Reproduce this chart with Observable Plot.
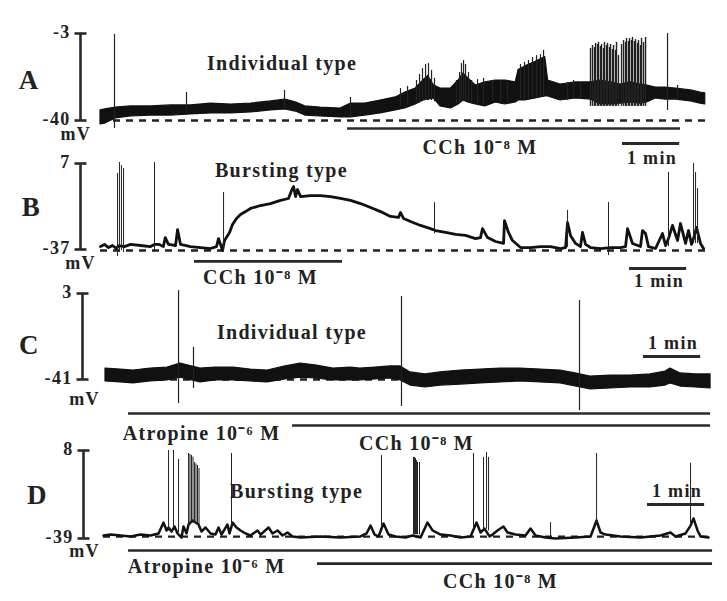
<!DOCTYPE html>
<html><head><meta charset="utf-8">
<script src="https://cdn.jsdelivr.net/npm/d3@7"></script>
<script src="https://cdn.jsdelivr.net/npm/@observablehq/plot@0.6"></script>
<style>
body{margin:0;background:#fff;}
#fig{position:relative;width:727px;height:601px;background:#fff;}
#fig svg{position:absolute;left:0;top:0;}
</style></head><body><div id="fig"></div>
<script>
// ---------- labels ----------
const panelLetters = ["A", "B", "C", "D"];
const panelTitles = ["Individual type", "Bursting type", "Individual type", "Bursting type"];
const unitLabel = "mV";
const timeBarLabel = "1 min";
const timeBarSeconds = 60;
const scaleTicksA = [-40, -3], scaleTicksB = [-37, 7], scaleTicksC = [-41, 3], scaleTicksD = [-39, 8];
const baselineA = -40, baselineB = -37.5, baselineC = -41, baselineD = -38;
const traceEndA = 637, traceEndB = 636, traceEndC = 635, traceEndD = 635;

// ---------- drug applications (s) ----------
const aDrugName = ["CCh 10⁻⁸ M"], aDrugStart = [259.4], aDrugEnd = [609];
const bDrugName = ["CCh 10⁻⁸ M"], bDrugStart = [98.7], bDrugEnd = [254.1];
const cDrugName = ["Atropine 10⁻⁶ M", "CCh 10⁻⁸ M"], cDrugStart = [24.2, 196.4], cDrugEnd = [635.3, 635.3];
const dDrugName = ["Atropine 10⁻⁶ M", "CCh 10⁻⁸ M"], dDrugStart = [26.3, 224.7], dDrugEnd = [639.5, 639.5];

// ---------- A: membrane potential envelope (s, mV) ----------
const aBandT = [0,5,16,32,53,74,95,116,137,158,179,194,205,215,231,252,263,278,294,310,320,331,339,344,350,357,368,376,381,386,394,404,415,425,436,439,446,457,467,470,483,499,515,525,536,546,557,567,574,583,593,604,620,630,635];
const aBandHi = [-35.7,-35.3,-34.5,-34.0,-34.0,-33.6,-33.6,-32.8,-33.2,-32.8,-31.9,-31.1,-32.3,-34.0,-34.5,-34.9,-32.8,-32.8,-31.5,-30.2,-28.1,-26.4,-23.0,-21.0,-25.0,-26.4,-26.4,-23.0,-20.0,-22.0,-25.1,-23.8,-23.0,-23.0,-23.8,-18.5,-17.0,-15.0,-13.0,-23.0,-24.7,-23.8,-23.8,-23.0,-23.8,-24.7,-23.8,-24.7,-25.1,-26.0,-26.0,-26.4,-27.2,-28.1,-28.5];
const aBandLo = [-41.7,-41.3,-39.1,-38.3,-37.9,-37.9,-37.4,-37.0,-37.0,-36.6,-35.7,-35.3,-36.2,-37.9,-38.3,-38.7,-38.7,-37.9,-37.0,-35.7,-34.9,-33.2,-31.5,-31.1,-30.6,-34.0,-34.9,-33.2,-31.5,-32.3,-33.2,-34.0,-32.3,-33.2,-32.3,-31.5,-31.5,-30.6,-29.8,-29.8,-31.5,-30.6,-31.1,-33.2,-33.2,-32.8,-32.3,-32.8,-32.3,-30.6,-31.1,-31.1,-31.9,-32.8,-33.2];
// single spikes and burst crests in A
const aSpikeT = [14.7,90.3,193.2,262.5,315,322.4,331.8,335,338.1,341.3,344.4,347.6,350.7,373.8,377,379,381.2,383.3,386.4,389.6,395.9,402.2,411.6,420,427.4,441,445.2,449.4,453.6,457.8,462,465.2,490.4,496.7,504,595.4,605.9];
const aSpikeTop = [-3.4,-28.1,-27.2,-30.2,-26.4,-25.5,-23.0,-20.4,-17.9,-16.2,-15.8,-18.7,-22.1,-23.0,-19.6,-15.8,-14.5,-16.2,-19.6,-23.0,-22.6,-22.1,-23.0,-23.0,-23.8,-16.2,-15.3,-14.5,-13.2,-12.4,-12.0,-10.2,-23.8,-23.0,-24.3,-3.0,-25.1];
const aSpikeBot = [-43.4,-36.6,-34.9,-38.7,-34.0,-33.5,-33.2,-32.5,-32.0,-31.5,-31.5,-31.5,-32.0,-33.0,-32.5,-32.0,-32.0,-32.0,-32.5,-33.0,-33.0,-33.5,-32.0,-33.0,-33.0,-31.0,-31.0,-31.0,-30.5,-30.5,-30.0,-30.0,-31.5,-30.6,-31.0,-35.7,-31.5];
// dense spike cluster in A (late CCh)
const aClusterT = [514.5,516.6,518.7,519.8,521.9,522.9,525,526.1,528.2,529.2,531.3,532.4,534.5,535.5,537.6,538.7,540.8,541.8,543.9,547.1,549.2,551.3,552.3,554.4,555.5,557.6,558.6,560.7,561.8,563.9,564.9,567,568.1,570.2,572.3];
const aClusterTop = [-9.4,-8.1,-9.0,-7.2,-7.7,-6.8,-8.5,-7.7,-9.4,-6.8,-8.1,-7.2,-9.0,-7.7,-9.8,-8.1,-10.2,-6.8,-12.4,-7.7,-6.0,-6.8,-5.1,-6.4,-5.1,-6.0,-4.7,-6.4,-5.6,-7.2,-6.0,-8.1,-5.1,-6.8,-4.7];
const aClusterBot = [-34,-34,-34,-34,-34,-34,-34,-34,-34,-34,-34,-34,-34,-34,-34,-34,-34,-34,-34,-34,-34,-34,-34,-34,-34,-34,-34,-34,-34,-34,-34,-34,-34,-34,-34];

// ---------- B: membrane potential (s, mV) ----------
const bT = [0,4.2,8.4,12.6,16.8,18.9,25.2,31.5,42,52.5,56.7,61.5,66,68,71.4,78.8,80.9,84,94.5,105,115.5,121.8,123.9,126,128.1,130.2,135.5,138.6,142.8,147,152.3,157.5,168,178.5,189,197.4,200.6,202.7,204.8,206.9,210,220.5,231,241.5,252,262.5,273,283.5,294,304.5,312.9,315,318.2,325.5,336,346.5,351.8,362.3,372.8,383.3,393.8,399,401.1,406.4,414.8,423.2,424.2,428.4,432.6,441,451.5,462,472.5,483,488.3,490.4,493.5,498.8,504,506.1,509.3,514.5,525,535.5,546,551.3,553.4,558.6,567,569.1,572.3,575.4,582.8,590.1,593.3,596.4,600.6,605.9,609,614.3,617.4,620.6,622.7,625.8,630,633.2];
const bV = [-35.5,-34.4,-36.0,-34.95,-36.5,-35.0,-35.5,-34.4,-34.95,-35.5,-34.4,-34.4,-35.5,-30.9,-34.4,-34.95,-26.8,-34.4,-35.5,-36.0,-36.5,-35.5,-31.4,-34.4,-37.5,-32.4,-28.3,-24.2,-21.1,-19.1,-17.6,-16.0,-14.5,-13.5,-11.9,-10.9,-6.8,-4.8,-9.9,-6.3,-9.9,-9.4,-9.4,-9.9,-10.9,-11.9,-13.5,-15.5,-17.6,-20.1,-20.6,-18.1,-21.1,-22.7,-24.7,-26.3,-27.3,-28.3,-29.3,-29.8,-31.4,-30.9,-26.3,-30.9,-32.9,-33.9,-22.2,-28.3,-32.4,-36.0,-36.0,-35.5,-35.5,-36.5,-36.0,-23.2,-29.8,-33.9,-35.5,-28.3,-34.4,-36.0,-36.5,-36.0,-36.0,-35.5,-26.3,-33.9,-35.5,-27.3,-28.8,-35.5,-36.5,-28.8,-35.0,-31.4,-24.7,-32.4,-23.7,-33.9,-27.3,-34.4,-31.4,-25.7,-33.9,-36.5];
const bSpikeT = [17.9,19.9,22,24.2,56.7,129.2,350.7,490.4,533.4,596.4,622.7,624.8,626.9];
const bSpikeTop = [1.9,7.5,6.0,4.4,7.5,-7.8,-13.0,-17.0,-13.0,2.4,7.0,2.4,-5.8];
const bSpikeBot = [-40.6,-38.5,-37.5,-38.5,-38.5,-37.5,-29.0,-36.0,-40.1,-35.5,-34.0,-34.0,-34.0];

// ---------- C: membrane potential envelope (s, mV) ----------
const cBandT = [0,15.8,29.4,47.3,65.1,78.8,99.8,115.5,134.4,152.3,170.1,189,204.8,220.5,239.4,257.3,267.8,283.5,299.3,309.8,320.3,336,351.8,372.8,393.8,414.8,435.8,456.8,477.8,493.5,509.3,530.3,551.3,572.3,588,593.3,603.8,619.5,635.3];
const cBandHi = [-35.4,-35.9,-36.4,-35.4,-34.9,-32.8,-35.4,-34.9,-34.9,-35.9,-36.4,-34.3,-32.8,-33.8,-35.4,-34.9,-35.4,-34.9,-34.3,-34.3,-37.4,-38.4,-37.4,-36.4,-35.9,-35.4,-35.4,-35.9,-36.4,-37.9,-39.5,-39.0,-39.0,-38.4,-36.9,-35.4,-37.9,-38.4,-38.4];
const cBandLo = [-42.0,-42.5,-43.0,-42.0,-41.5,-40.0,-42.5,-41.5,-41.5,-42.0,-42.5,-41.0,-40.0,-40.5,-41.5,-41.5,-41.5,-41.0,-40.5,-41.5,-44.1,-45.1,-44.1,-43.6,-43.0,-42.5,-42.0,-42.5,-43.0,-44.6,-46.1,-45.6,-45.1,-45.1,-44.1,-43.0,-44.6,-45.1,-45.6];
const cSpikeT = [76.7,92.4,310.8,497.7];
const cSpikeTop = [4.5,-24.6,1.5,-0.6];
const cSpikeBot = [-53.3,-45.6,-54.8,-56.9];

// ---------- D: membrane potential (s, mV) ----------
const dT = [0,7.4,17.9,28.4,38.9,49.4,57.8,63,66.2,68.3,71.4,74.6,77.7,81.9,84,87.2,89.3,93.5,99.8,102.9,107.1,112.4,117.6,120.8,123.9,130.2,132.3,135.5,139.7,143.9,149.1,154.4,161.7,164.9,173.3,177.5,182.7,188,193.2,198.5,206.9,227.9,248.9,269.9,276.2,280.4,284.6,288.8,294,299.3,306.6,317.1,324.5,332.9,340.2,345.5,353.9,364.4,374.9,385.4,391.7,395.9,400.1,405.3,408.5,413.7,420,424.2,432.6,443.1,448.4,453.6,464.1,474.6,495.6,511.4,517.7,521.9,527.1,542.9,563.9,584.9,595.4,600.6,611.1,616.4,619.5,623.7,626.9,635.3];
const dV = [-37.4,-36.9,-37.4,-37.9,-36.9,-37.4,-36.3,-30.5,-34.7,-33.1,-35.3,-32.6,-36.3,-38.5,-32.6,-36.3,-31.5,-29.4,-31.5,-35.3,-33.1,-36.3,-36.9,-33.1,-36.9,-31.5,-36.3,-30.5,-33.1,-34.7,-36.3,-37.4,-34.7,-36.9,-33.1,-36.3,-34.7,-37.4,-35.8,-37.9,-38.5,-37.9,-38.5,-37.9,-36.3,-32.1,-36.9,-37.9,-31.0,-36.9,-37.9,-38.5,-37.4,-38.5,-30.5,-34.7,-36.9,-37.4,-38.5,-37.9,-30.5,-35.8,-33.7,-37.9,-36.9,-34.7,-32.6,-35.8,-36.9,-37.4,-33.7,-37.4,-38.5,-39.0,-38.5,-37.9,-29.4,-35.8,-36.9,-37.9,-38.5,-37.4,-35.8,-37.9,-36.3,-32.1,-28.3,-34.7,-37.9,-38.5];
const dSpikeT = [68.3,73.5,78.8,89.3,90.8,92.4,94,95.6,97.1,98.7,100.3,134.4,291.9,325.5,326.6,327.6,328.7,329.7,331.8,388.5,399,402.2,404.3,469.4,517.7,616.4];
const dSpikeTop = [8.0,8.0,3.2,6.4,5.9,5.3,4.5,1.6,0.8,0.0,-1.6,6.4,5.3,4.3,4.3,3.7,2.6,1.6,1.6,6.4,4.3,6.9,4.3,-30.5,6.4,1.1];
const dSpikeBot = [-35,-34,-36,-33,-32,-31,-31,-31,-31,-32,-33,-33,-33,-37,-37,-37,-37,-37,-37,-34,-34,-34,-35,-38,-32,-33];

// ---------- helpers ----------
const zip = (keys, ...arrs) => arrs[0].map((_, i) => Object.fromEntries(keys.map((k, j) => [k, arrs[j][i]])));
const INK = "#111", BAR = "#2a2a2a";
const FONT = "'Liberation Serif','Times New Roman',serif";
const capSymbol = {draw(ctx) { ctx.moveTo(-6, 0); ctx.lineTo(6, 0); }};

function band(t, hi, lo) {
  return Plot.areaY(zip(["t","hi","lo"], t, hi, lo), {x: "t", y1: "lo", y2: "hi", fill: INK, stroke: INK, strokeWidth: 1.2});
}
function line(t, v, w) {
  return Plot.line(zip(["t","v"], t, v), {x: "t", y: "v", stroke: INK, strokeWidth: w, strokeLinejoin: "round"});
}
function spikes(t, top, bot, w) {
  return Plot.ruleX(zip(["t","top","bot"], t, top, bot), {x: "t", y1: "bot", y2: "top", stroke: "#222", strokeWidth: w});
}
function label(txt, x, y, size, anchor = "middle") {
  return Plot.text([txt], {x: () => x, y: () => y, text: d => d, fontSize: size, fontWeight: "bold", fontFamily: FONT, fill: "#222", textAnchor: anchor});
}

function panel(p) {
  const drugs = p.drugName.map((name, i) => ({name, start: p.drugStart[i], end: p.drugEnd[i], level: p.drugLevel[i], lx: p.drugLabel[i][0], ly: p.drugLabel[i][1]}));
  const tb = [{t: p.timeBar.t, t2: p.timeBar.t + timeBarSeconds, v: p.timeBar.v}];
  const off = p.barX - p.start;
  return Plot.plot({
    width: 727, height: 601,
    marginLeft: p.barX, marginRight: 0, marginTop: p.top, marginBottom: 601 - p.bottom,
    x: {domain: [0, 600], range: [p.start, p.start + 600 / 1.05], axis: null},
    y: {domain: [p.ticks[0], p.ticks[1]], axis: null},
    style: {background: "transparent", overflow: "visible", fontFamily: FONT, fontWeight: "bold", letterSpacing: "1.3px", color: "#222"},
    marks: [
      // mV scale bar with end caps and values
      Plot.ruleX([0], {x: d => d, dx: off, y1: () => p.ticks[0], y2: () => p.ticks[1], stroke: BAR, strokeWidth: 2.6}),
      Plot.dot(p.ticks, {x: () => 0, y: d => d, dx: off, symbol: capSymbol, stroke: BAR, strokeWidth: 2.6, fill: "none"}),
      Plot.text(p.ticks, {x: () => 0, y: d => d, dx: off - 10, dy: -1, text: d => String(d), textAnchor: "end", fontSize: 18, fontWeight: "bold", fontFamily: FONT, fill: "#222"}),
      label(unitLabel, p.unitAt[0], p.unitAt[1], 18),
      label(p.letter, p.letterAt[0], p.letterAt[1], 27),
      label(p.title, p.titleAt[0], p.titleAt[1], 20),
      // resting baseline
      Plot.ruleY([p.base], {y: d => d, x1: () => 0, x2: () => p.end, stroke: "#222", strokeWidth: 2.3, strokeDasharray: "7,6"}),
      ...p.trace,
      // drug application bars
      Plot.ruleY(drugs, {y: "level", x1: "start", x2: "end", stroke: BAR, strokeWidth: 2.6}),
      Plot.text(drugs, {x: "lx", y: "ly", text: "name", fontSize: 20, fontWeight: "bold", fontFamily: FONT, fill: "#222"}),
      // 1 min time bar
      Plot.ruleY(tb, {y: "v", x1: "t", x2: "t2", stroke: BAR, strokeWidth: 3}),
      label(timeBarLabel, p.timeBar.t + timeBarSeconds / 2 + 1, p.timeBar.tv, 18)
    ]
  });
}

const panels = [
  {barX: 80, top: 33, bottom: 120, start: 100, ticks: scaleTicksA, base: baselineA, end: traceEndA,
   letter: panelLetters[0], letterAt: [-75, -23], title: panelTitles[0], titleAt: [190.6, -16], unitAt: [-26, -46],
   trace: [band(aBandT, aBandHi, aBandLo), spikes(aSpikeT, aSpikeTop, aSpikeBot, 1.2), spikes(aClusterT, aClusterTop, aClusterBot, 1.4)],
   drugName: aDrugName, drugStart: aDrugStart, drugEnd: aDrugEnd, drugLevel: [-43.4], drugLabel: [[398.5, -51.7]],
   timeBar: {t: 548.1, v: -49.8, tv: -55.9}},
  {barX: 80, top: 163, bottom: 249, start: 100, ticks: scaleTicksB, base: baselineB, end: traceEndB,
   letter: panelLetters[1], letterAt: [-72.5, -15.3], title: panelTitles[1], titleAt: [190, 3.4], unitAt: [-21, -43.9],
   trace: [line(bT, bV, 2.8), spikes(bSpikeT, bSpikeTop, bSpikeBot, 1)],
   drugName: bDrugName, drugStart: bDrugStart, drugEnd: bDrugEnd, drugLevel: [-43.1], drugLabel: [[168, -51.6]],
   timeBar: {t: 555.5, v: -46.7, tv: -53.4}},
  {barX: 82, top: 293, bottom: 379, start: 105, ticks: scaleTicksC, base: baselineC, end: traceEndC,
   letter: panelLetters[2], letterAt: [-79.8, -23.6], title: panelTitles[2], titleAt: [195.8, -17], unitAt: [-22, -51.3],
   trace: [band(cBandT, cBandHi, cBandLo), spikes(cSpikeT, cSpikeTop, cSpikeBot, 1.2)],
   drugName: cDrugName, drugStart: cDrugStart, drugEnd: cDrugEnd, drugLevel: [-58.4, -64.5], drugLabel: [[100.8, -68.6], [326.6, -74]],
   timeBar: {t: 564.9, v: -29.2, tv: -22.3}},
  {barX: 83, top: 450, bottom: 538, start: 103, ticks: scaleTicksD, base: baselineD, end: traceEndD,
   letter: panelLetters[3], letterAt: [-69.3, -16], title: panelTitles[3], titleAt: [202.7, -14.2], unitAt: [-20, -45.8],
   trace: [line(dT, dV, 2.5), spikes(dSpikeT, dSpikeTop, dSpikeBot, 1)],
   drugName: dDrugName, drugStart: dDrugStart, drugEnd: dDrugEnd, drugLevel: [-45.4, -52.4], drugLabel: [[108.2, -54.2], [416.9, -62.2]],
   timeBar: {t: 571.2, v: -20.8, tv: -13.9}}
];

const fig = document.getElementById("fig");
for (const p of panels) fig.appendChild(panel(p));
</script></body></html>
